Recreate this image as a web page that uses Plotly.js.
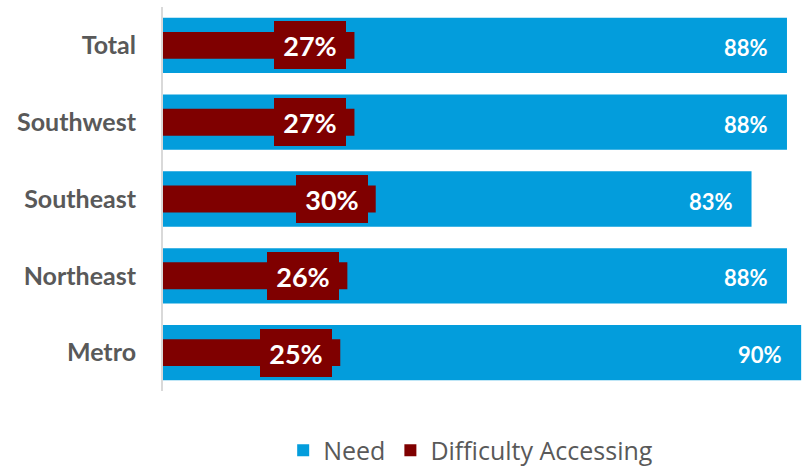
<!DOCTYPE html>
<html>
<head>
<meta charset="utf-8">
<script src="https://cdn.plot.ly/plotly-3.0.1.min.js"></script>
<style>html,body{margin:0;padding:0;background:#fff;}#chart{width:804px;height:466px;}</style>
</head>
<body>
<div id="chart"></div>
<script>
var categories = ["Total", "Southwest", "Southeast", "Northeast", "Metro"];
var needValues = [88, 88, 83, 88, 90];
var difficultyValues = [27, 27, 30, 26, 25];
var seriesNames = ["Need", "Difficulty Accessing"];

var FONT = "Lato, 'Open Sans', sans-serif";
var blue = "#039ddc";
var red = "#7f0000";
var gray = "#595959";

var traces = [
  {
    type: "bar", orientation: "h", name: seriesNames[0],
    y: categories, x: needValues, width: 0.72,
    marker: {color: blue}, hoverinfo: "x+y"
  },
  {
    type: "bar", orientation: "h", name: seriesNames[1],
    y: categories, x: difficultyValues, width: 0.35,
    marker: {color: red}, hoverinfo: "x+y"
  }
];

var annotations = [];
categories.forEach(function (c, i) {
  annotations.push({
    x: difficultyValues[i], y: c, xref: "x", yref: "y",
    xanchor: "right", yanchor: "middle", xshift: -8,
    text: "<b>" + difficultyValues[i] + "%</b>",
    showarrow: false, width: 72, height: 48, align: "center",
    bgcolor: red, borderpad: 0, borderwidth: 0,
    font: {family: FONT, size: 27, color: "#ffffff"}
  });
  annotations.push({
    x: needValues[i], y: c, xref: "x", yref: "y",
    xanchor: "right", yanchor: "middle", xshift: -17, yshift: -2,
    text: "<b>" + needValues[i] + "%</b>",
    showarrow: false,
    font: {family: FONT, size: 22, color: "#ffffff"}
  });
});

var layout = {
  width: 804, height: 466,
  margin: {l: 163, r: 0, t: 7, b: 75, autoexpand: false},
  paper_bgcolor: "#ffffff", plot_bgcolor: "#ffffff",
  barmode: "overlay",
  showlegend: true,
  legend: {
    orientation: "h", x: 0.48, xanchor: "center", y: -0.095, yanchor: "top",
    font: {family: "'Open Sans', sans-serif", size: 25, color: gray},
    traceorder: "normal", itemwidth: 30
  },
  xaxis: {
    range: [0, 90.4], visible: false, showgrid: false, zeroline: false, fixedrange: true
  },
  yaxis: {
    type: "category", autorange: "reversed",
    showline: true, linecolor: "#d9d9d9", linewidth: 2,
    showgrid: false, zeroline: false, ticks: "",
    ticklabelstandoff: 20,
    tickfont: {family: FONT, size: 25, color: gray, weight: "bold"}
  },
  annotations: annotations
};

Plotly.newPlot("chart", traces, layout, {displayModeBar: false, staticPlot: true});
</script>
</body>
</html>
